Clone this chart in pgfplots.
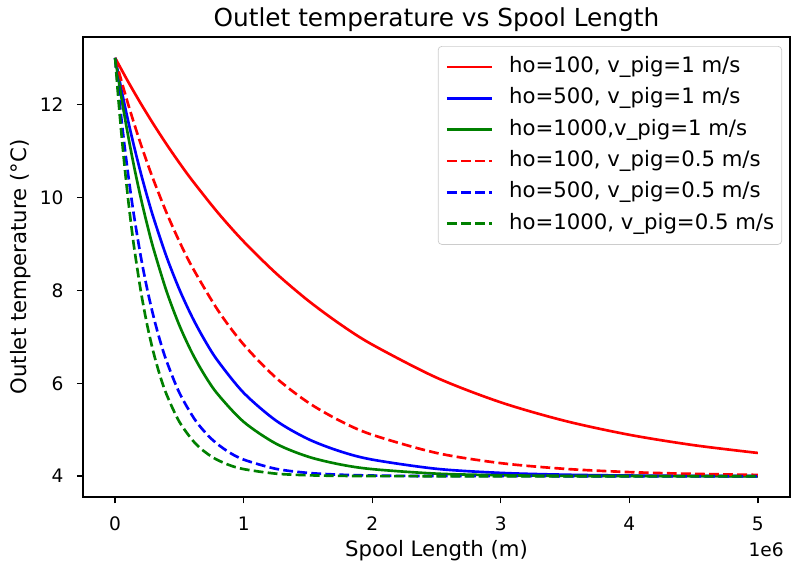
\documentclass[border=0pt]{standalone}
\usepackage{fontspec}
\setmainfont{DejaVu Sans}
\usepackage{pgfplots}
\pgfplotsset{compat=1.18}
\definecolor{mplred}{rgb}{1,0,0}
\definecolor{mplblue}{rgb}{0,0,1}
\definecolor{mplgreen}{rgb}{0,0.5,0}
\begin{document}
\begin{tikzpicture}
\begin{axis}[
  name=ax,
  at={(0,0)}, anchor=south west,
  width=399.5pt, height=260pt, scale only axis,
  xmin=-0.25, xmax=5.25, ymin=3.55, ymax=13.45,
  xtick={0,1,2,3,4,5}, ytick={4,6,8,10,12},
  tick pos=left, tick align=outside, major tick length=3.5pt,
  tick style={black, line width=0.8pt},
  axis line style={black, line width=0.8pt},
  /pgf/number format/assume math mode=true,
  ticklabel style={font=\fontsize{10.5}{12}\selectfont},
  xticklabel style={yshift=-4pt},
  yticklabel style={xshift=-4pt},
  xlabel={Spool Length (m)},
  xlabel style={font=\fontsize{12}{14}\selectfont, at={(axis description cs:0.5,0)}, anchor=base, yshift=-33.7pt},
  ylabel={Outlet temperature (°C)},
  ylabel style={font=\fontsize{12}{14}\selectfont, at={([xshift=-35pt]axis description cs:0,0.5)}, anchor=center},
  legend image code/.code={\draw[#1, line width=1.5pt] (0pt,0pt) -- (25.4pt,0pt);},
  legend style={at={(rel axis cs:1,1)}, anchor=north east, xshift=-4.5pt, yshift=-5.1pt,
    draw=black!20, rounded corners=2pt, fill=white, fill opacity=0.8, text opacity=1,
    font=\fontsize{12}{14}\selectfont, inner xsep=4.2pt, inner ysep=5.7pt,
    row sep=5.7pt, column sep=9pt,
    nodes={inner sep=0pt, text height=9pt, text depth=3pt},
    cells={anchor=west}},
]
\addplot[mplred, line width=1.5pt, smooth] coordinates {(0,13) (0.1,12.494) (0.2,12.017) (0.3,11.567) (0.4,11.142) (0.5,10.741) (0.6,10.363) (0.8,9.668) (1.0,9.049) (1.25,8.370) (1.5,7.782) (1.75,7.272) (2.0,6.832) (2.5,6.121) (3.0,5.589) (3.5,5.190) (4.0,4.891) (4.5,4.668) (5.0,4.500)};
\addlegendentry{ho=100, v\_pig=1 m/s}
\addplot[mplblue, line width=1.5pt, smooth] coordinates {(0,13) (0.05,12.302) (0.1,11.659) (0.15,11.066) (0.2,10.519) (0.25,10.014) (0.3,9.548) (0.4,8.721) (0.5,8.018) (0.6,7.420) (0.7,6.911) (0.8,6.477) (1.0,5.794) (1.25,5.199) (1.5,4.801) (1.75,4.535) (2.0,4.357) (2.5,4.159) (3.0,4.071) (3.5,4.032) (4.0,4.014) (4.5,4.006) (5.0,4.003)};
\addlegendentry{ho=500, v\_pig=1 m/s}
\addplot[mplgreen, line width=1.5pt, smooth] coordinates {(0,13) (0.05,12.127) (0.1,11.339) (0.15,10.627) (0.2,9.984) (0.25,9.404) (0.3,8.880) (0.4,7.979) (0.5,7.244) (0.6,6.645) (0.7,6.157) (0.8,5.759) (1.0,5.169) (1.25,4.702) (1.5,4.421) (1.75,4.253) (2.0,4.152) (2.5,4.055) (3.0,4.020) (3.5,4.007) (4.0,4.003) (4.5,4.001) (5.0,4.000)};
\addlegendentry{ho=1000,v\_pig=1 m/s}
\addplot[mplred, line width=1.5pt, smooth, dash pattern=on 5.55pt off 2.4pt] coordinates {(0,13) (0.05,12.494) (0.1,12.017) (0.15,11.567) (0.2,11.142) (0.25,10.741) (0.3,10.363) (0.4,9.668) (0.5,9.049) (0.6,8.498) (0.8,7.569) (1.0,6.832) (1.25,6.121) (1.5,5.589) (1.75,5.190) (2.0,4.891) (2.5,4.500) (3.0,4.281) (3.5,4.158) (4.0,4.088) (4.5,4.050) (5.0,4.028)};
\addlegendentry{ho=100, v\_pig=0.5 m/s}
\addplot[mplblue, line width=1.5pt, smooth, dash pattern=on 5.55pt off 2.4pt] coordinates {(0,13) (0.025,12.302) (0.05,11.659) (0.075,11.066) (0.1,10.519) (0.125,10.014) (0.15,9.548) (0.2,8.721) (0.25,8.018) (0.3,7.420) (0.35,6.911) (0.4,6.477) (0.5,5.794) (0.625,5.199) (0.75,4.801) (0.875,4.535) (1.0,4.357) (1.25,4.159) (1.5,4.071) (1.75,4.032) (2.0,4.014) (2.25,4.006) (2.5,4.003) (3.0,4.001) (4.0,4.000) (5.0,4.000)};
\addlegendentry{ho=500, v\_pig=0.5 m/s}
\addplot[mplgreen, line width=1.5pt, smooth, dash pattern=on 5.55pt off 2.4pt] coordinates {(0,13) (0.025,12.127) (0.05,11.339) (0.075,10.627) (0.1,9.984) (0.125,9.404) (0.15,8.880) (0.2,7.979) (0.25,7.244) (0.3,6.645) (0.35,6.157) (0.4,5.759) (0.5,5.169) (0.625,4.702) (0.75,4.421) (0.875,4.253) (1.0,4.152) (1.25,4.055) (1.5,4.020) (1.75,4.007) (2.0,4.003) (2.25,4.001) (2.5,4.000) (3.0,4.000) (4.0,4.000) (5.0,4.000)};
\addlegendentry{ho=1000, v\_pig=0.5 m/s}
\end{axis}
\node[font=\fontsize{14}{16}\selectfont, anchor=base] at ([yshift=6pt]ax.north) {Outlet temperature vs Spool Length};
\node[font=\fontsize{10.5}{12}\selectfont, anchor=base east] at ([yshift=-33.7pt]ax.south east) {1e6};
\pgfresetboundingbox
\path (-46.9pt,-38.4pt) rectangle (401.2pt,280.9pt);
\end{tikzpicture}
\end{document}
